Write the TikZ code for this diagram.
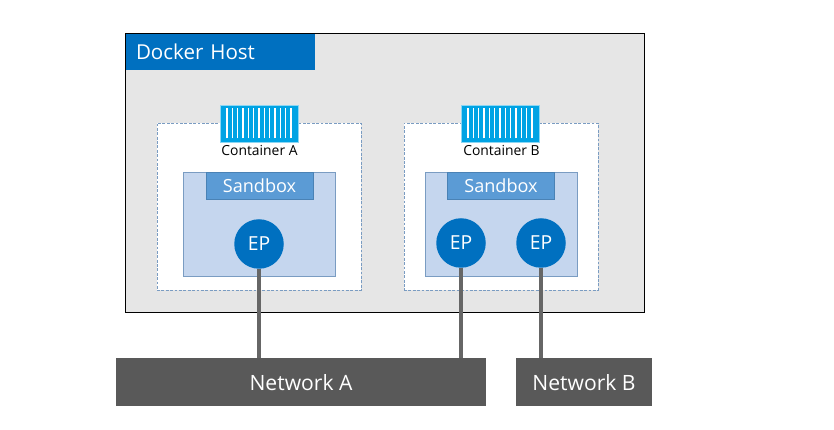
\documentclass[tikz,border=0pt]{standalone}
\usepackage{fontspec}
\setmainfont{Open Sans}
\definecolor{hostblue}{HTML}{0070C0}
\definecolor{hostgray}{HTML}{E6E6E6}
\definecolor{sandboxlight}{HTML}{C5D6EE}
\definecolor{sandboxline}{HTML}{7A9CC2}
\definecolor{sandboxhead}{HTML}{5B9BD5}
\definecolor{sandboxheadline}{HTML}{4A82B5}
\definecolor{netgray}{HTML}{595959}
\definecolor{linkgray}{HTML}{666666}
\definecolor{icoblue}{HTML}{00A3E4}
\tikzset{
  box/.style={minimum height=0pt, inner sep=0pt, outer sep=0pt},
  hostbox/.style={box, draw=black, line width=0.5pt, fill=hostgray, minimum width=10.38cm, minimum height=5.58cm},
  hosttitle/.style={box, fill=hostblue, text=white, font=\fontsize{11.7}{14}\selectfont, text width=3.38cm, align=left, minimum width=3.78cm, minimum height=0.72cm},
  contbox/.style={box, draw=sandboxline, dash pattern=on 1.6pt off 0.9pt, line width=0.5pt, fill=white, minimum height=3.34cm},
  contlabel/.style={box, font=\fontsize{7.9}{9}\selectfont},
  sandbox/.style={box, draw=sandboxline, line width=0.5pt, fill=sandboxlight, minimum width=3.04cm, minimum height=2.08cm},
  sandboxlabel/.style={box, draw=sandboxheadline, line width=0.5pt, fill=sandboxhead, text=white, font=\fontsize{10.3}{12}\selectfont, minimum width=2.14cm, minimum height=0.54cm},
  epcircle/.style={box, circle, fill=hostblue, text=white, font=\fontsize{11}{13}\selectfont, minimum size=0.99cm},
  netbox/.style={box, fill=netgray, text=white, font=\fontsize{12}{14}\selectfont, minimum height=0.96cm, text height=10pt},
  netlink/.style={draw=linkgray, line width=1.8pt},
  containericon/.pic={
    \fill[icoblue, draw=icoblue!45, line width=0.4pt] (-0.78,-0.37) rectangle (0.78,0.37);
    \foreach \i in {-6,...,6}
      \draw[white, line width=0.7pt] (\i*0.107,-0.3) -- (\i*0.107,0.3);
  },
}

\begin{document}
\begin{tikzpicture}
    \useasboundingbox (0,0) rectangle (16.68,8.6);
    \node[hostbox] (host) at (7.69, 5.15) {};
    \node[hosttitle] (title) at (4.41, 7.56) {Docker Host};

    \node[contbox, minimum width=4.08cm] (conta) at (5.18, 4.47) {};
    \node[contbox, minimum width=3.88cm] (contb) at (10.02, 4.47) {};
    \pic at (5.18, 6.13) {containericon};
    \pic at (10.00, 6.13) {containericon};
    \node[contlabel] (labela) at (5.19, 5.59) {Container A};
    \node[contlabel] (labelb) at (10.03, 5.59) {Container B};

    \node[sandbox] (boxa) at (5.18, 4.12) {};
    \node[sandbox] (boxb) at (10.02, 4.12) {};
    \node[sandboxlabel] (heada) at (5.19, 4.89) {Sandbox};
    \node[sandboxlabel] (headb) at (10.02, 4.89) {Sandbox};

    \node[netbox, minimum width=7.40cm] (neta) at (6.02, 0.96) {Network A};
    \node[netbox, minimum width=2.72cm] (netb) at (11.68, 0.96) {Network B};

    \node[epcircle] (ep1) at (5.18, 3.72) {EP};
    \node[epcircle] (ep2) at (9.22, 3.74) {EP};
    \node[epcircle] (ep3) at (10.82, 3.74) {EP};

    \draw[netlink] (ep1.south) -- (ep1.south |- neta.north);
    \draw[netlink] (ep2.south) -- (ep2.south |- neta.north);
    \draw[netlink] (ep3.south) -- (ep3.south |- netb.north);
\end{tikzpicture}
\end{document}
